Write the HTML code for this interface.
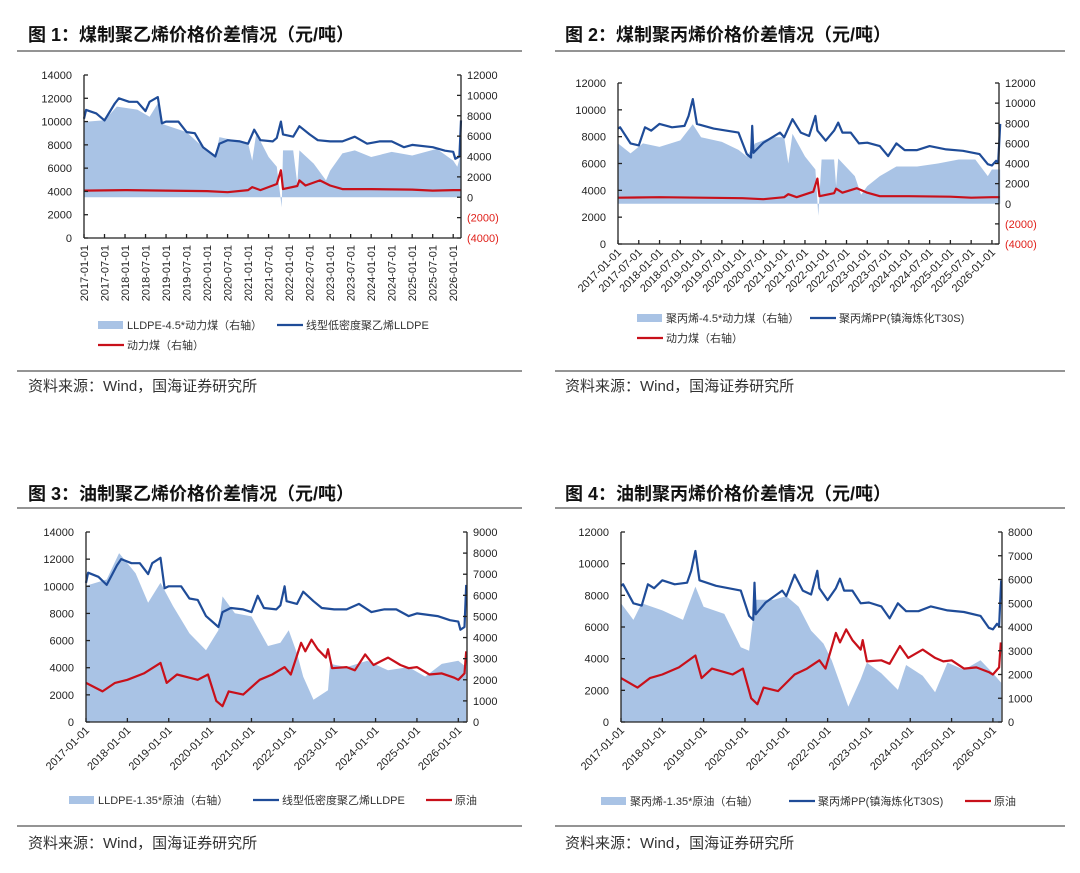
<!DOCTYPE html>
<html><head><meta charset="utf-8">
<style>
html,body{margin:0;padding:0;background:#fff;}
svg{display:block;font-family:"Liberation Sans","Noto Sans CJK SC",sans-serif;}
</style></head>
<body>
<svg id="page" width="1080" height="873" viewBox="0 0 1080 873" xmlns="http://www.w3.org/2000/svg">
<rect width="1080" height="873" fill="#fff"/>
<g font-size="18" font-weight="bold" fill="#111">
<text x="28" y="41">图 1：煤制聚乙烯价格价差情况（元/吨）</text>
<text x="565" y="41">图 2：煤制聚丙烯价格价差情况（元/吨）</text>
<text x="28" y="500">图 3：油制聚乙烯价格价差情况（元/吨）</text>
<text x="565" y="500">图 4：油制聚丙烯价格价差情况（元/吨）</text>
</g>
<g stroke="#555" stroke-width="1.2">
<line x1="17" y1="51" x2="522" y2="51"/><line x1="555" y1="51" x2="1065" y2="51"/>
<line x1="17" y1="371" x2="522" y2="371"/><line x1="555" y1="371" x2="1065" y2="371"/>
<line x1="17" y1="508" x2="522" y2="508"/><line x1="555" y1="508" x2="1065" y2="508"/>
<line x1="17" y1="826" x2="522" y2="826"/><line x1="555" y1="826" x2="1065" y2="826"/>
</g>
<g font-size="15" fill="#333">
<text x="28" y="391">资料来源：Wind，国海证券研究所</text>
<text x="565" y="391">资料来源：Wind，国海证券研究所</text>
<text x="28" y="848">资料来源：Wind，国海证券研究所</text>
<text x="565" y="848">资料来源：Wind，国海证券研究所</text>
</g>
<g id="charts"></g>
</svg>
<script>
// ---- data ----
const peDates=[2017.0,2017.05,2017.3,2017.5,2017.75,2017.85,2018.1,2018.3,2018.5,2018.6,2018.8,2018.9,2019.0,2019.3,2019.5,2019.7,2019.9,2020.2,2020.3,2020.5,2020.8,2021.0,2021.15,2021.3,2021.6,2021.7,2021.8,2021.85,2022.1,2022.25,2022.5,2022.7,2023.0,2023.3,2023.6,2023.9,2024.2,2024.5,2024.8,2025.0,2025.5,2025.8,2026.0,2026.05,2026.15,2026.19];
const peValues=[10250,11000,10700,10100,11550,12000,11700,11700,10900,11700,12100,9850,10000,10000,9100,9000,7800,7000,8100,8400,8300,8100,9300,8400,8300,8600,10000,8900,8700,9600,8900,8400,8300,8300,8700,8100,8300,8300,7800,8000,7800,7500,7400,6800,7000,10100];
const ppDates=[2017.0,2017.05,2017.3,2017.5,2017.65,2017.8,2018.0,2018.3,2018.6,2018.7,2018.8,2018.9,2019.3,2019.6,2019.9,2020.1,2020.2,2020.23,2020.26,2020.5,2020.9,2021.0,2021.2,2021.4,2021.6,2021.75,2021.8,2022.0,2022.2,2022.3,2022.4,2022.6,2022.8,2023.0,2023.3,2023.5,2023.7,2023.9,2024.2,2024.5,2024.9,2025.3,2025.7,2025.9,2026.0,2026.1,2026.15,2026.2];
const ppValues=[8600,8700,7500,7350,8700,8450,8950,8700,8800,9550,10800,8950,8600,8450,8300,6700,6450,8800,6800,7550,8300,7950,9300,8300,8050,9550,8450,7700,8450,9050,8300,8300,7500,7550,7300,6550,7500,7000,7000,7300,7050,6950,6700,5950,5850,6200,6050,8950];
const coalDates=[2017.0,2018.0,2019.0,2020.0,2020.5,2021.0,2021.1,2021.3,2021.7,2021.8,2021.85,2022.2,2022.25,2022.4,2022.75,2023.0,2023.3,2024.0,2025.0,2025.5,2026.0,2026.19];
const coalPeValues=[650,700,650,600,500,700,1000,700,1300,2650,800,1100,1650,1150,1650,1150,800,800,750,650,700,700];
const coalPpValues=[600,650,600,550,450,650,950,650,1200,2500,750,1050,1500,1100,1550,1100,750,750,700,600,650,650];
const spreadCoalPeDates=[2017.0,2017.5,2017.8,2018.3,2018.6,2018.8,2018.9,2019.5,2019.9,2020.2,2020.3,2021.0,2021.1,2021.2,2021.5,2021.7,2021.82,2021.85,2022.1,2022.2,2022.25,2022.6,2022.9,2023.0,2023.3,2023.6,2024.0,2024.5,2025.0,2025.6,2026.0,2026.1,2026.19];
const spreadCoalPeValues=[7400,7550,8900,8600,7900,9200,7200,6400,4900,3950,5900,5300,3600,6300,3950,3000,-1000,4600,4600,1300,4600,3300,1650,2600,4300,4600,3950,4450,4100,4750,3600,3000,4300];
const spreadCoalPpDates=[2017.0,2017.3,2017.6,2018.0,2018.5,2018.8,2019.0,2019.5,2019.9,2020.1,2020.3,2020.7,2021.0,2021.1,2021.2,2021.5,2021.75,2021.82,2021.9,2022.2,2022.25,2022.3,2022.7,2022.85,2023.0,2023.3,2023.7,2024.2,2024.7,2025.2,2025.6,2025.9,2026.0,2026.2];
const spreadCoalPpValues=[6000,5000,6000,5650,6300,7900,6600,6150,5350,4700,6000,6600,6600,4000,6950,4700,3400,-1200,4400,4400,1750,4500,2750,900,1750,2750,3700,3700,4000,4400,4400,2750,3400,3400];
const crudeDates=[2017.0,2017.4,2017.7,2018.0,2018.4,2018.8,2018.95,2019.2,2019.5,2019.7,2019.95,2020.15,2020.3,2020.45,2020.8,2021.2,2021.5,2021.8,2021.95,2022.2,2022.3,2022.45,2022.6,2022.8,2022.85,2022.95,2023.3,2023.5,2023.75,2023.95,2024.3,2024.6,2024.8,2025.0,2025.3,2025.6,2025.9,2026.0,2026.15,2026.19];
const crudeValues=[1850,1450,1850,2000,2300,2800,1850,2250,2100,2000,2250,1000,750,1450,1300,2000,2250,2600,2250,3750,3350,3900,3450,3050,3450,2550,2600,2450,3200,2700,3050,2700,2550,2600,2250,2300,2100,2000,2300,3350];
const spreadOilPeDates=[2017.0,2017.5,2017.8,2018.2,2018.5,2018.8,2019.1,2019.5,2019.9,2020.2,2020.3,2020.6,2021.0,2021.4,2021.7,2021.9,2022.1,2022.25,2022.5,2022.85,2022.9,2023.3,2023.8,2024.3,2024.8,2025.2,2025.6,2026.0,2026.19];
const spreadOilPeValues=[6450,6750,8000,7050,5650,6600,5500,4200,3400,4350,5950,5150,5000,3600,3750,4350,3250,2150,1050,1500,2750,2600,2900,2450,2600,2150,2750,2900,2600];
const spreadOilPpDates=[2017.0,2017.3,2017.5,2018.0,2018.5,2018.8,2019.0,2019.5,2019.9,2020.1,2020.25,2020.7,2021.0,2021.3,2021.6,2021.9,2022.1,2022.5,2022.8,2022.95,2023.3,2023.7,2023.9,2024.3,2024.6,2024.9,2025.3,2025.7,2026.0,2026.2];
const spreadOilPpValues=[5000,4300,5000,4700,4300,5700,4850,4550,3150,3000,5150,5150,5300,4850,3850,3300,2600,650,1800,2500,2050,1350,2400,1950,1250,2500,2200,2600,2050,1650];
const leftTicks14=[0,2000,4000,6000,8000,10000,12000,14000];
const leftTicks12=[0,2000,4000,6000,8000,10000,12000];
const rightTicksCoal=[-4000,-2000,0,2000,4000,6000,8000,10000,12000];
const rightTicks9=[0,1000,2000,3000,4000,5000,6000,7000,8000,9000];
const rightTicks8=[0,1000,2000,3000,4000,5000,6000,7000,8000];
const halfYearTicks=[2017.0,2017.5,2018.0,2018.5,2019.0,2019.5,2020.0,2020.5,2021.0,2021.5,2022.0,2022.5,2023.0,2023.5,2024.0,2024.5,2025.0,2025.5,2026.0];
const yearTicks=[2017,2018,2019,2020,2021,2022,2023,2024,2025,2026];

const NS='http://www.w3.org/2000/svg';
const root=document.getElementById('charts');
function mk(tag,attrs,parent){const e=document.createElementNS(NS,tag);for(const k in attrs)e.setAttribute(k,attrs[k]);(parent||root).appendChild(e);return e;}
function fmtDate(t){const y=Math.floor(t+1e-6);const m=(t-y)>0.25?'07':'01';return y+'-'+m+'-01';}
function fmtRight(v){return v<0?'('+(-v)+')':String(v);}

function drawChart(c){
  const g=mk('g',{});
  
  
  const X=t=>c.xL+(t-c.x0)/(c.x1-c.x0)*(c.xR-c.xL);
  const YL=v=>c.yB-(v-c.lMin)/(c.lMax-c.lMin)*(c.yB-c.yT);
  const YR=v=>c.yB-(v-c.rMin)/(c.rMax-c.rMin)*(c.yB-c.yT);
  // area
  let base=YR(0);
  let d='M'+X(c.areaDates[0])+','+base;
  c.areaDates.forEach((t,i)=>{d+=' L'+X(t).toFixed(1)+','+YR(c.areaValues[i]).toFixed(1);});
  d+=' L'+X(c.areaDates[c.areaDates.length-1])+','+base+' Z';
  const area=mk('path',{d:d,fill:'#a9c3e5'},g);
  
  
  // lines
  const lp=c.lineDates.map((t,i)=>X(t).toFixed(1)+','+YL(c.lineValues[i]).toFixed(1)).join(' ');
  const l1=mk('polyline',{points:lp,fill:'none',stroke:'#1f4c98','stroke-width':2.2,'stroke-linejoin':'round'},g);
  
  
  const YRed=c.redLeft?YL:YR;
  const rp=c.redDates.map((t,i)=>X(t).toFixed(1)+','+YRed(c.redValues[i]).toFixed(1)).join(' ');
  const l2=mk('polyline',{points:rp,fill:'none',stroke:'#c8101a','stroke-width':2.2,'stroke-linejoin':'round'},g);
  
  
  // axes
  const ax=mk('g',{stroke:'#222','stroke-width':1.3},g);
  
  
  mk('line',{x1:c.xL,y1:c.yT,x2:c.xL,y2:c.yB},ax);
  mk('line',{x1:c.xR,y1:c.yT,x2:c.xR,y2:c.yB},ax);
  mk('line',{x1:c.xL,y1:c.yB,x2:c.xR,y2:c.yB},ax);
  c.lTicks.forEach(v=>{
    mk('line',{x1:c.xL,y1:YL(v),x2:c.xL+4,y2:YL(v)},ax);
    const t=mk('text',{x:c.xL-12,y:YL(v)+4,'text-anchor':'end','font-size':11,fill:'#222',stroke:'none'},g);
    
    
    t.textContent=v;
  });
  c.rTicks.forEach(v=>{
    mk('line',{x1:c.xR,y1:YR(v),x2:c.xR-4,y2:YR(v)},ax);
    const t=mk('text',{x:c.xR+6,y:YR(v)+4,'font-size':11,fill:v<0?'#e0201a':'#222',stroke:'none'},g);
    
    
    t.textContent=fmtRight(v);
  });
  c.xTicks.forEach(tv=>{
    const x=X(tv);
    mk('line',{x1:x,y1:c.yB,x2:x,y2:c.yB-4},ax);
    const t=mk('text',{'font-size':11,fill:'#222','text-anchor':'end'},g);
    
    
    if(c.rot===90){t.setAttribute('transform','translate('+(x+4)+','+(c.yB+7)+') rotate(-90)');}
    else{t.setAttribute('transform','translate('+(x+4)+','+(c.yB+9)+') rotate(-45)');}
    t.textContent=c.rot===90||c.half?fmtDate(tv):tv+'-01-01';
  });
  // legend
  c.legend.forEach(L=>{
    const lg=mk('g',{},g);
    
    
    if(L.type==='area')mk('rect',{x:L.x,y:L.y-4,width:25,height:8,fill:'#a9c3e5'},lg);
    else mk('line',{x1:L.x,y1:L.y,x2:L.x+26,y2:L.y,stroke:L.type==='blue'?'#1f4c98':'#c8101a','stroke-width':2.2},lg);
    const t=mk('text',{x:L.x+29,y:L.y+4,'font-size':11,fill:'#333'},lg);
    t.textContent=L.text;
  });
}

drawChart({name:'chart-coal-pe',xL:84,xR:461,x0:2017,x1:2026.19,yT:75,yB:238,lMin:0,lMax:14000,rMin:-4000,rMax:12000,
  lTicks:leftTicks14,rTicks:rightTicksCoal,xTicks:halfYearTicks,rot:90,
  areaDates:spreadCoalPeDates,areaValues:spreadCoalPeValues,lineDates:peDates,lineValues:peValues,redDates:coalDates,redValues:coalPeValues,
  legend:[{type:'area',x:98,y:325,text:'LLDPE-4.5*动力煤（右轴）'},{type:'blue',x:277,y:325,text:'线型低密度聚乙烯LLDPE'},{type:'red',x:98,y:345,text:'动力煤（右轴）'}]});
drawChart({name:'chart-coal-pp',xL:618,xR:999,x0:2017,x1:2026.17,yT:83,yB:244,lMin:0,lMax:12000,rMin:-4000,rMax:12000,
  lTicks:leftTicks12,rTicks:rightTicksCoal,xTicks:halfYearTicks,rot:45,half:true,
  areaDates:spreadCoalPpDates,areaValues:spreadCoalPpValues,lineDates:ppDates,lineValues:ppValues,redDates:coalDates,redValues:coalPpValues,
  legend:[{type:'area',x:637,y:318,text:'聚丙烯-4.5*动力煤（右轴）'},{type:'blue',x:810,y:318,text:'聚丙烯PP(镇海炼化T30S)'},{type:'red',x:637,y:338,text:'动力煤（右轴）'}]});
drawChart({name:'chart-oil-pe',xL:86,xR:467,x0:2017,x1:2026.21,yT:532,yB:722,lMin:0,lMax:14000,rMin:0,rMax:9000,
  lTicks:leftTicks14,rTicks:rightTicks9,xTicks:yearTicks,rot:45,
  areaDates:spreadOilPeDates,areaValues:spreadOilPeValues,lineDates:peDates,lineValues:peValues,redDates:crudeDates,redValues:crudeValues,
  legend:[{type:'area',x:69,y:800,text:'LLDPE-1.35*原油（右轴）'},{type:'blue',x:253,y:800,text:'线型低密度聚乙烯LLDPE'},{type:'red',x:426,y:800,text:'原油'}]});
drawChart({name:'chart-oil-pp',xL:621,xR:1002,x0:2017,x1:2026.22,yT:532,yB:722,lMin:0,lMax:12000,rMin:0,rMax:8000,
  lTicks:leftTicks12,rTicks:rightTicks8,xTicks:yearTicks,rot:45,
  areaDates:spreadOilPpDates,areaValues:spreadOilPpValues,lineDates:ppDates,lineValues:ppValues,redDates:crudeDates,redValues:crudeValues,
  legend:[{type:'area',x:601,y:801,text:'聚丙烯-1.35*原油（右轴）'},{type:'blue',x:789,y:801,text:'聚丙烯PP(镇海炼化T30S)'},{type:'red',x:965,y:801,text:'原油'}]});
</script>
</body></html>
